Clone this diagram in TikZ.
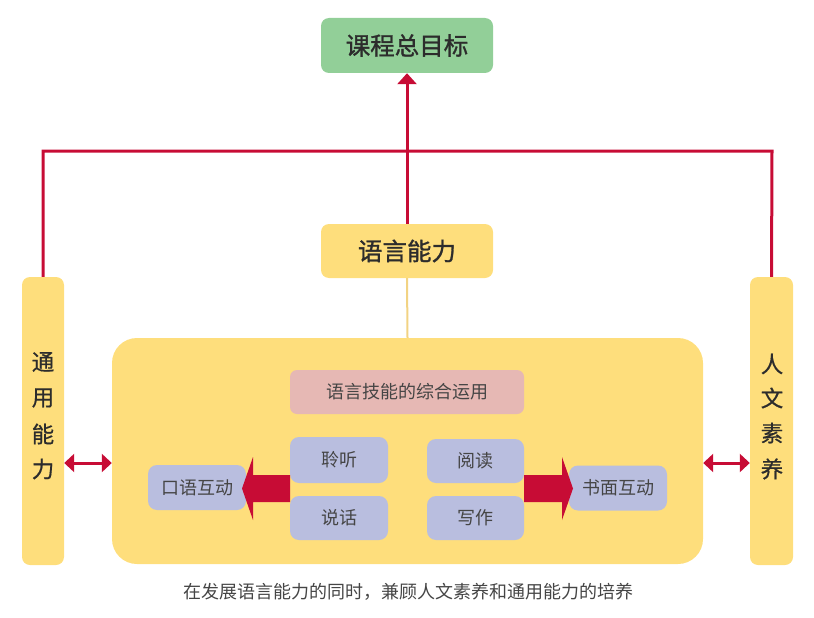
\documentclass[tikz,border=0pt]{standalone}
\usepackage{fontspec}
\setmainfont{Noto Sans CJK SC}
\newfontfamily\cjkmed{Noto Sans CJK SC}[FakeBold=1.2]
\newfontfamily\cjkside{Noto Sans CJK SC}[FakeBold=0.6]
\usetikzlibrary{arrows.meta}
\definecolor{cgreen}{HTML}{92CF98}
\definecolor{cyellow}{HTML}{FEDE7C}
\definecolor{cline}{HTML}{F2D383}
\definecolor{cred}{HTML}{C70C35}
\definecolor{cpink}{HTML}{E6B8B4}
\definecolor{clav}{HTML}{B9BEDF}
\definecolor{ctext}{HTML}{2C2C2C}
\definecolor{cgray}{HTML}{454545}
\tikzset{
  box/.style={rounded corners=8pt, inner sep=0pt, text=ctext},
  bigtxt/.style={font=\cjkmed\fontsize{24.5}{24.5}\selectfont},
  sidetxt/.style={font=\cjkside\fontsize{22.5}{22.5}\selectfont, text=ctext, inner sep=0pt},
  smalltxt/.style={font=\fontsize{18}{18}\selectfont, text=cgray},
  lav/.style={box, fill=clav, smalltxt, rounded corners=9pt},
  redline/.style={draw=cred, line width=3pt},
  dbl/.style={draw=cred, line width=3pt, {Triangle[width=18pt,length=10pt]}-{Triangle[width=18pt,length=10pt]}},
}
\begin{document}
\begin{tikzpicture}[x=1pt,y=-1pt]
\useasboundingbox (0,0) rectangle (814,618);
% boxes
\node[box, fill=cgreen, bigtxt, minimum width=172pt, minimum height=55pt] (goal) at (407,45.5) {课程总目标};
\node[box, fill=cyellow, bigtxt, minimum width=172pt, minimum height=54pt] (lang) at (407,251) {语言能力};
\node[box, fill=cyellow, minimum width=42pt, minimum height=288pt] (lbar) at (43,421) {};
\node[box, fill=cyellow, minimum width=43pt, minimum height=288pt] (rbar) at (771.5,421) {};
\node[box, fill=cyellow, rounded corners=25pt, minimum width=591pt, minimum height=226pt] (big) at (407.5,451) {};
% side texts
\node[sidetxt] (t1) at (43,362) {通};
\node[sidetxt] (t2) at (43,398) {用};
\node[sidetxt] (t3) at (43,434) {能};
\node[sidetxt] (t4) at (43,469) {力};
\node[sidetxt] (r1) at (772,364) {人};
\node[sidetxt] (r2) at (772,398) {文};
\node[sidetxt] (r3) at (772,433) {素};
\node[sidetxt] (r4) at (772,469) {养};
% inner boxes
\node[box, fill=cpink, smalltxt, rounded corners=7pt, minimum width=234pt, minimum height=44pt] (skill) at (407,392) {语言技能的综合运用};
\node[lav, minimum width=98pt, minimum height=46pt] (ting) at (339,460) {聆听};
\node[lav, minimum width=98pt, minimum height=44pt] (shuo) at (339,518) {说话};
\node[lav, minimum width=97pt, minimum height=44pt] (yue) at (475.5,461) {阅读};
\node[lav, minimum width=97pt, minimum height=44pt] (xie) at (475.5,518) {写作};
\node[lav, minimum width=98pt, minimum height=45pt] (kouyu) at (197,487.5) {口语互动};
\node[lav, minimum width=98pt, minimum height=45pt] (shumian) at (618,488) {书面互动};
% block arrows
\fill[cred] (290,475) -- (253,475) -- (253,457) -- (242,488.5) -- (253,520) -- (253,502) -- (290,502) -- cycle;
\fill[cred] (524,475) -- (562,475) -- (562,457) -- (573,488.5) -- (562,520) -- (562,502) -- (524,502) -- cycle;
% connectors
\coordinate (jl) at (43,151);
\coordinate (jr) at (772,151);
\draw[redline] (lbar.north) -- (jl) -- (jr) -- (rbar.north);
\draw[redline, -{Triangle[width=19pt,length=11pt]}] (lang.north) -- (goal.south);
\draw[draw=cline, line width=2pt] (lang.south) -- (big.north);
\coordinate (la) at (64,463);
\coordinate (lb) at (112,463);
\coordinate (ra) at (703,463);
\coordinate (rb) at (750,463);
\draw[dbl] (lbar.east |- la) -- (big.west |- lb);
\draw[dbl] (big.east |- ra) -- (rbar.west |- rb);
% caption
\node[font=\fontsize{18}{18}\selectfont, text=cgray] (cap) at (408,592) {在发展语言能力的同时，兼顾人文素养和通用能力的培养};
\end{tikzpicture}
\end{document}
